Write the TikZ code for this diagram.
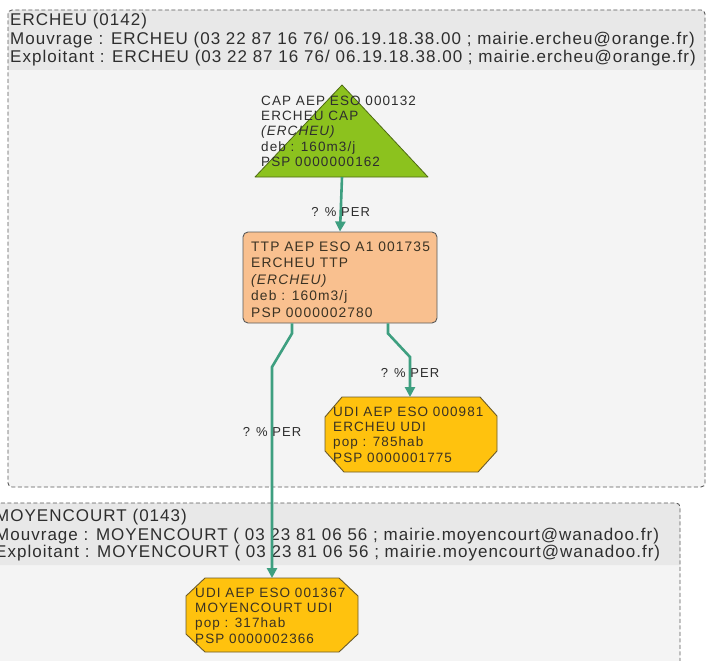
\documentclass[tikz,border=0pt]{standalone}
\usepackage{fontspec}
\setmainfont{Liberation Sans}
\newfontfamily\headfont[LetterSpace=6]{Liberation Sans}
\newfontfamily\nodefont[LetterSpace=8]{Liberation Sans}
\usetikzlibrary{arrows.meta}
\definecolor{edgeteal}{HTML}{3E9F80}
\definecolor{clbody}{HTML}{F4F4F4}
\definecolor{clhead}{HTML}{E8E8E8}
\definecolor{clline}{HTML}{5A5A5A}
\definecolor{capgreen}{HTML}{8CC21E}
\definecolor{capline}{HTML}{4E6A14}
\definecolor{ttpfill}{HTML}{F9C08F}
\definecolor{ttpline}{HTML}{5A5A5A}
\definecolor{udifill}{HTML}{FFC20E}
\definecolor{udiline}{HTML}{6B5A2A}
\definecolor{txtdark}{HTML}{2E2E2E}
\definecolor{txtbrown}{HTML}{3A3223}
\tikzset{
  clusterframe/.style={draw=clline, line width=0.9pt, dash pattern=on 4pt off 2.5pt, rounded corners=4pt},
  headtext/.style={anchor=west, inner sep=0pt, text=txtdark, font=\headfont\fontsize{17}{19}\selectfont},
  nodetext/.style={anchor=north west, inner sep=0pt, align=left, font=\nodefont\fontsize{13.5}{15.4}\selectfont},
  edge/.style={draw=edgeteal, line width=2.6pt, -{Triangle[length=10pt,width=10pt]}},
  edgelabel/.style={inner sep=0pt, text=txtdark, font=\nodefont\fontsize{13}{15}\selectfont},
  ttpbox/.style={draw=ttpline, fill=ttpfill, line width=0.9pt, rounded corners=5pt, minimum width=194pt, minimum height=91pt, inner sep=0pt},
  udishape/.style={draw=udiline, fill=udifill, line width=0.9pt, line join=round},
}
\begin{document}
\begin{tikzpicture}[x=1pt, y=-1pt]
\useasboundingbox (0,0) rectangle (707,661);
\clip (0,0) rectangle (707,661);
\fill[white] (0,0) rectangle (707,661);

% ---- ERCHEU commune ----
\fill[clbody, rounded corners=4pt] (8,10) rectangle (705,487);
\fill[clhead] (8,70) [rounded corners=4pt] -- (8,10) -- (705,10) [sharp corners] -- (705,70) -- cycle;
\draw[clusterframe] (8,10) rectangle (705,487);
\node[headtext] (erch-name) at (10,21) {ERCHEU (0142)};
\node[headtext] (erch-mo) at (10,40) {Mouvrage : ERCHEU (03 22 87 16 76/ 06.19.18.38.00 ; mairie.ercheu@orange.fr)};
\node[headtext] (erch-ex) at (10,58.5) {Exploitant : ERCHEU (03 22 87 16 76/ 06.19.18.38.00 ; mairie.ercheu@orange.fr)};

% ---- MOYENCOURT commune ----
\fill[clbody, rounded corners=4pt] (-10,503) rectangle (680,680);
\fill[clhead] (-10,565) [rounded corners=4pt] -- (-10,503) -- (680,503) [sharp corners] -- (680,565) -- cycle;
\draw[clusterframe] (-10,503) rectangle (680,680);
\node[headtext] (moy-name) at (-5,517) {MOYENCOURT (0143)};
\node[headtext] (moy-mo) at (-5,536) {Mouvrage : MOYENCOURT ( 03 23 81 06 56 ; mairie.moyencourt@wanadoo.fr)};
\node[headtext] (moy-ex) at (-5,553.5) {Exploitant : MOYENCOURT ( 03 23 81 06 56 ; mairie.moyencourt@wanadoo.fr)};

% ---- capture (triangle) ----
\coordinate (cap-top) at (342,85);
\coordinate (cap-base) at (342,177);
\filldraw[fill=capgreen, draw=capline, line width=0.8pt, line join=round]
  (cap-top) -- (428,177) -- (255,177) -- cycle;
\node[nodetext, text=txtdark] (cap) at (261,95.5)
  {CAP AEP ESO 000132\\ERCHEU CAP\\\textit{(ERCHEU)}\\deb : 160m3/j\\PSP 0000000162};

% ---- treatment (rounded box) ----
\node[ttpbox] (ttp) at (340,277.5) {};
\begin{scope}
  \clip[rounded corners=5pt] (ttp.south west) rectangle (ttp.north east);
  \node[nodetext, text=txtbrown, font=\nodefont\fontsize{13.8}{16.5}\selectfont] (ttp-text) at (251,241.5)
    {TTP AEP ESO A1 001735\\ERCHEU TTP\\\textit{(ERCHEU)}\\deb : 160m3/j\\PSP 0000002780};
\end{scope}

% ---- distribution units (octagons) ----
\filldraw[udishape] (342,397) -- (480,397) -- (497,416) -- (497,451) -- (478,472)
  -- (344,472) -- (325,451) -- (325,417) -- cycle;
\coordinate (udi1-top) at (410,397);
\node[nodetext, text=txtbrown] (udi1) at (333,406.5)
  {UDI AEP ESO 000981\\ERCHEU UDI\\pop : 785hab\\PSP 0000001775};

\filldraw[udishape] (205,578) -- (339,578) -- (358,596) -- (358,634) -- (339,652)
  -- (205,652) -- (186,634) -- (186,596) -- cycle;
\coordinate (udi2-top) at (272,578);
\node[nodetext, text=txtbrown] (udi2) at (195,587.5)
  {UDI AEP ESO 001367\\MOYENCOURT UDI\\pop : 317hab\\PSP 0000002366};

% ---- flows ----
\draw[edge] (cap-base) -- node[edgelabel, pos=0.65] (lab-cap) {? \% PER} (ttp.north);
\coordinate (bend-l) at (272,367);
\coordinate (bend-r) at (410,357);
\draw[edge] ([xshift=-48pt]ttp.south) -- ++(0,10) -- (bend-l)
  -- node[edgelabel, pos=0.31] (lab-l) {? \% PER} (udi2-top);
\draw[edge] ([xshift=48pt]ttp.south) -- ++(0,10) -- (bend-r)
  -- node[edgelabel, pos=0.39] (lab-r) {? \% PER} (udi1-top);
\end{tikzpicture}
\end{document}
